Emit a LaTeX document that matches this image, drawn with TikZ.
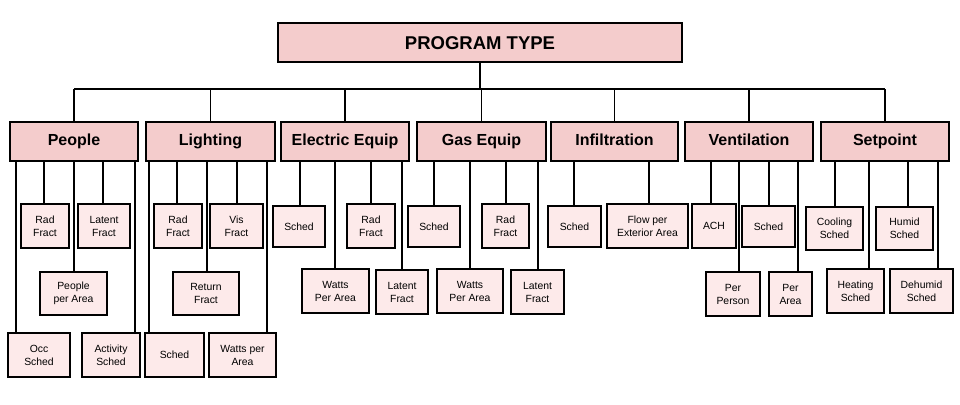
\documentclass[tikz,border=0pt]{standalone}
\usepackage{fontspec}
\setmainfont{Liberation Sans}
\definecolor{catfill}{HTML}{F4CCCC}
\definecolor{leaffill}{HTML}{FDEAEA}
\begin{document}
\begin{tikzpicture}[x=1pt,y=-1pt,
  box/.style={draw=black,line width=1.6pt,inner sep=0pt,align=center,text=black},
  topbox/.style={box,fill=catfill,minimum width=404pt,minimum height=39pt,text height=13.5pt,text depth=0.5pt,font=\fontsize{18.5}{22}\selectfont\bfseries},
  catbox/.style={box,fill=catfill,minimum height=39pt,text height=12pt,text depth=3.5pt,font=\fontsize{16}{19}\selectfont\bfseries},
  leaf/.style={box,fill=leaffill,font=\fontsize{10.4}{13}\selectfont},
  conn/.style={draw=black,line width=1.6pt}]
\useasboundingbox (0,0) rectangle (960,404);
% top
\node[topbox] (top) at (480,42.5) {PROGRAM TYPE};
% categories
\node[catbox,minimum width=128pt] (people) at (74,141.5) {People};
\node[catbox,minimum width=129pt] (light) at (210.5,141.5) {Lighting};
\node[catbox,minimum width=128pt] (elec) at (345,141.5) {Electric Equip};
\node[catbox,minimum width=129pt] (gas) at (481.5,141.5) {Gas Equip};
\node[catbox,minimum width=127pt] (infil) at (614.5,141.5) {Infiltration};
\node[catbox,minimum width=128pt] (vent) at (749,141.5) {Ventilation};
\node[catbox,minimum width=128pt] (setp) at (885,141.5) {Setpoint};
% leaves: People
\node[leaf,minimum width=62pt,minimum height=44pt] (occ) at (39,355) {Occ\\Sched};
\node[leaf,minimum width=48pt,minimum height=44pt] (prad) at (45,226) {Rad\\Fract};
\node[leaf,minimum width=67pt,minimum height=43pt] (ppa) at (73.5,293.5) {People\\per Area};
\node[leaf,minimum width=52pt,minimum height=44pt] (plat) at (104,226) {Latent\\Fract};
\node[leaf,minimum width=58pt,minimum height=44pt] (pact) at (111,355) {Activity\\Sched};
% Lighting
\node[leaf,minimum width=59pt,minimum height=44pt] (lsch) at (174.5,355) {Sched};
\node[leaf,minimum width=48pt,minimum height=44pt] (lrad) at (178,226) {Rad\\Fract};
\node[leaf,minimum width=66pt,minimum height=43pt] (lret) at (206,293.5) {Return\\Fract};
\node[leaf,minimum width=53pt,minimum height=44pt] (lvis) at (236.5,226) {Vis\\Fract};
\node[leaf,minimum width=67pt,minimum height=44pt] (lwat) at (242.5,355) {Watts per\\Area};
% Electric
\node[leaf,minimum width=52pt,minimum height=41pt] (esch) at (299,226.5) {Sched};
\node[leaf,minimum width=67pt,minimum height=44pt] (ewat) at (335.5,291) {Watts\\Per Area};
\node[leaf,minimum width=48pt,minimum height=44pt] (erad) at (371,226) {Rad\\Fract};
\node[leaf,minimum width=52pt,minimum height=44pt] (elat) at (402,292) {Latent\\Fract};
% Gas
\node[leaf,minimum width=52pt,minimum height=41pt] (gsch) at (434,226.5) {Sched};
\node[leaf,minimum width=66pt,minimum height=44pt] (gwat) at (470,291) {Watts\\Per Area};
\node[leaf,minimum width=47pt,minimum height=44pt] (grad) at (505.5,226) {Rad\\Fract};
\node[leaf,minimum width=53pt,minimum height=44pt] (glat) at (537.5,292) {Latent\\Fract};
% Infiltration
\node[leaf,minimum width=53pt,minimum height=41pt] (isch) at (574.5,226.5) {Sched};
\node[leaf,minimum width=81pt,minimum height=44pt] (iflo) at (647.5,226) {Flow per\\Exterior Area};
% Ventilation
\node[leaf,minimum width=44pt,minimum height=44pt] (vach) at (714,226) {ACH};
\node[leaf,minimum width=54pt,minimum height=44pt] (vpp) at (733,294) {Per\\Person};
\node[leaf,minimum width=53pt,minimum height=41pt] (vsch) at (768.5,226.5) {Sched};
\node[leaf,minimum width=43pt,minimum height=44pt] (vpa) at (790.5,294) {Per\\Area};
% Setpoint
\node[leaf,minimum width=57pt,minimum height=43pt] (scoo) at (834.5,228.5) {Cooling\\Sched};
\node[leaf,minimum width=57pt,minimum height=44pt] (shea) at (855.5,291) {Heating\\Sched};
\node[leaf,minimum width=57pt,minimum height=43pt] (shum) at (904.5,228.5) {Humid\\Sched};
\node[leaf,minimum width=63pt,minimum height=44pt] (sdeh) at (921.5,291) {Dehumid\\Sched};
% bus
\coordinate (bus) at (0,89);
\draw[conn] (top.south) -- (top.south |- bus);
\draw[conn] (people.north |- bus) -- (setp.north |- bus);
\foreach \c in {people,light,elec,gas,infil,vent,setp}
  \draw[conn] (\c.north) -- (\c.north |- bus);
% children connectors
\foreach \p/\k/\x in {people/occ/16, people/prad/44, people/ppa/74, people/plat/103, people/pact/135,
  light/lsch/149, light/lrad/177, light/lret/207, light/lvis/237, light/lwat/267,
  elec/esch/300, elec/ewat/335, elec/erad/371, elec/elat/402,
  gas/gsch/434, gas/gwat/470, gas/grad/506, gas/glat/538,
  infil/isch/574, infil/iflo/649,
  vent/vach/711, vent/vpp/739, vent/vsch/769, vent/vpa/798,
  setp/scoo/835, setp/shea/869, setp/shum/908, setp/sdeh/938}
  \draw[conn] (\p.south -| \x,0) -- (\k.north -| \x,0);
\end{tikzpicture}
\end{document}
